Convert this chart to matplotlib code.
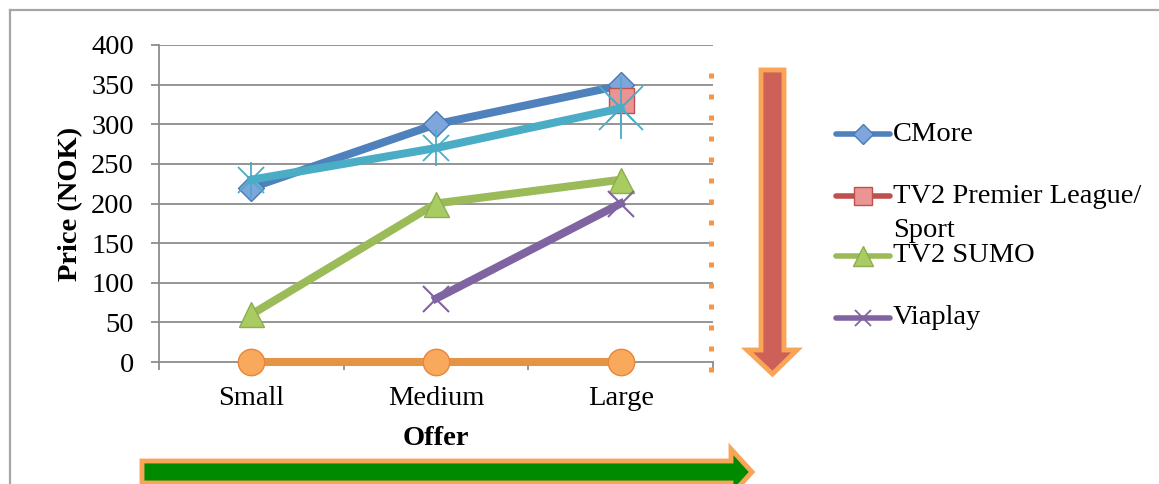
import matplotlib
matplotlib.use("Agg")
import matplotlib.pyplot as plt
from matplotlib.lines import Line2D
from matplotlib.patches import Polygon

W, H = 1159, 484

categories = ["Small", "Medium", "Large"]
cmore = [220, 300, 349]
tv2_premier = [None, None, 330]
tv2_sumo = [60, 200, 230]
viaplay = [None, 80, 200]
cyan_series = [230, 270, 320]
orange_series = [0, 0, 0]

y_ticks = [0, 50, 100, 150, 200, 250, 300, 350, 400]
legend_labels = ["CMore", "TV2 Premier League/\nSport", "TV2 SUMO", "Viaplay"]

FONT = "Liberation Serif"
FS = 20.5


def px(x, y):
    return x / W, 1 - y / H


def clean(vals):
    return [float("nan") if v is None else v for v in vals]


fig = plt.figure(figsize=(W / 100, H / 100), dpi=100)
fig.patch.set_facecolor("white")

# chart area frame (top and left edges visible)
fig.add_artist(Line2D([px(10, 10)[0], 1.0], [px(10, 10)[1]] * 2, color="#a6a6a6", lw=1.6))
fig.add_artist(Line2D([px(10, 10)[0]] * 2, [px(10, 10)[1], 0.0], color="#a6a6a6", lw=1.6))

left, top, right, bottom = 159, 45, 713, 362
ax = fig.add_axes([left / W, 1 - bottom / H, (right - left) / W, (bottom - top) / H])
ax.set_xlim(-0.5, 2.5)
ax.set_ylim(0, 400)
x = list(range(len(categories)))

for y in y_ticks[1:]:
    ax.axhline(y, color="#8c8c8c", lw=1.3, zorder=0)

for s in ["top", "right"]:
    ax.spines[s].set_visible(False)
for s in ["left", "bottom"]:
    ax.spines[s].set_color("#8c8c8c")
    ax.spines[s].set_linewidth(1.3)

ax.set_yticks(y_ticks)
ax.set_xticks(x)
ax.set_xticklabels(categories)
ax.set_xticks([-0.5, 0.5, 1.5, 2.5], minor=True)
ax.tick_params(axis="y", length=6, width=1.3, color="#8c8c8c", pad=12,
               labelsize=FS, labelfontfamily=FONT)
ax.tick_params(axis="x", which="major", length=0, pad=17, labelsize=FS, labelfontfamily=FONT)
ax.tick_params(axis="x", which="minor", length=6, width=1.3, color="#8c8c8c")
ax.set_ylabel("Price (NOK)", fontsize=FS, fontweight="bold", family=FONT, labelpad=6)
ax.set_xlabel("Offer", fontsize=FS, fontweight="bold", family=FONT, labelpad=11)

LW = 5.8
ax.plot(x, cmore, color="#4f81bd", lw=LW, marker="D", ms=13, mfc="#7ea6dc",
        mec="#4a7ab5", mew=1, zorder=3)
ax.plot(x, clean(tv2_premier), color="#c0504d", lw=LW, marker="s", ms=18,
        mfc="#ea9593", mec="#c0504d", mew=1, zorder=3)
ax.plot(x, tv2_sumo, color="#9bbb59", lw=LW, marker="^", ms=18, mfc="#a8cc62",
        mec="#8eac50", mew=1, zorder=3)
ax.plot(x, clean(viaplay), color="#8064a2", lw=LW, marker="x", ms=19,
        mec="#8064a2", mew=1.5, zorder=3)
ax.plot(x, cyan_series, color="#4bacc6", lw=LW, marker="x", ms=19,
        mec="#4bacc6", mew=1.3, zorder=4)
ax.plot(x, cyan_series, ls="none", marker="|", ms=26, mec="#4bacc6", mew=1.3, zorder=4)
ax.plot(x[-1:], cyan_series[-1:], ls="none", marker="x", ms=32, mec="#4bacc6", mew=1.3, zorder=4)
ax.plot(x[-1:], cyan_series[-1:], ls="none", marker="|", ms=44, mec="#4bacc6", mew=1.3, zorder=4)
ax.plot(x, orange_series, color="#e59446", lw=LW, marker="o", ms=19, mfc="#f9a95c",
        mec="#e8863a", mew=1, zorder=5, clip_on=False)

# legend (manual placement)
leg_markers = [
    dict(color="#4f81bd", marker="D", ms=10, mfc="#7ea6dc", mec="#4a7ab5"),
    dict(color="#c0504d", marker="s", ms=13, mfc="#ea9593", mec="#c0504d"),
    dict(color="#9bbb59", marker="^", ms=14, mfc="#a8cc62", mec="#8eac50"),
    dict(color="#8064a2", marker="x", ms=12, mec="#8064a2", mew=1.3),
]
leg_y = [134, 196, 256, 318]
for lab, ly, style in zip(legend_labels, leg_y, leg_markers):
    (x0, yy), (x1, _) = px(836, ly), px(890, ly)
    fig.add_artist(Line2D([x0, x1], [yy, yy], lw=4, solid_capstyle="round",
                          color=style["color"]))
    mk = {k: v for k, v in style.items() if k != "color"}
    fig.add_artist(Line2D([(x0 + x1) / 2], [yy], ls="none", **mk))
    if "\n" in lab:
        fig.text(px(893, 0)[0], px(0, ly - 12)[1], lab, fontsize=FS, family=FONT,
                 va="top", ha="left", linespacing=1.45)
    else:
        fig.text(px(893, 0)[0], yy, lab, fontsize=FS, family=FONT, va="center", ha="left")

# dotted orange vertical line
fig.add_artist(Line2D([px(711, 0)[0]] * 2, [px(0, 73)[1], px(0, 378)[1]],
                      color="#f79646", lw=3.6, ls=(0, (1, 3.2)), dash_capstyle="butt"))

# red downward arrow
red_pts = [(761, 70), (784, 70), (784, 350), (797, 350), (772.5, 374),
           (747, 350), (761, 350)]
fig.add_artist(Polygon([px(a, b) for a, b in red_pts], closed=True,
                       facecolor="#cd6058", edgecolor="#f9a557", lw=3.5, joinstyle="miter"))

# green right arrow
green_pts = [(142, 461), (731, 461), (731, 449), (752, 472), (731, 495),
             (731, 483), (142, 483)]
fig.add_artist(Polygon([px(a, b) for a, b in green_pts], closed=True,
                       facecolor="#008a00", edgecolor="#f9a557", lw=3.5, joinstyle="miter"))

fig.savefig("out.png", dpi=100)
